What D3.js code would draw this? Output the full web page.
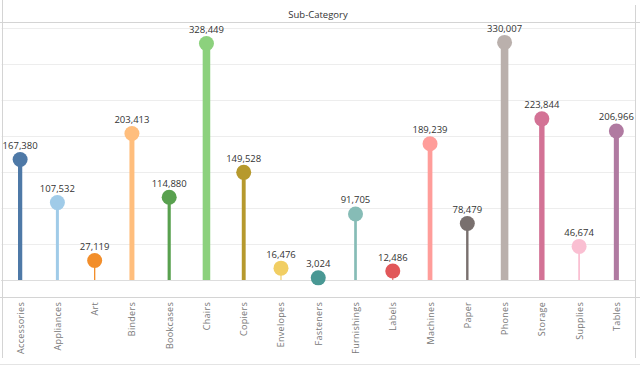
<!DOCTYPE html>
<html>
<head>
<meta charset="utf-8">
<script src="https://cdn.jsdelivr.net/npm/d3@7"></script>
<style>
body { margin: 0; background: #fff; }
svg { display: block; font-family: "Open Sans", sans-serif; }
</style>
</head>
<body>
<div id="chart"></div>
<script>
// data
var subCategories = ["Accessories", "Appliances", "Art", "Binders", "Bookcases", "Chairs", "Copiers",
	"Envelopes", "Fasteners", "Furnishings", "Labels", "Machines", "Paper", "Phones", "Storage",
	"Supplies", "Tables"];
var sales = [167380, 107532, 27119, 203413, 114880, 328449, 149528, 16476, 3024, 91705, 12486,
	189239, 78479, 330007, 223844, 46674, 206966];
var gridTicks = [0, 50000, 100000, 150000, 200000, 250000, 300000, 350000];
var palette = ["#4e79a7", "#a0cbe8", "#f28e2b", "#ffbe7d", "#59a14f", "#8cd17d", "#b6992d",
	"#f1ce63", "#499894", "#86bcb6", "#e15759", "#ff9d9a", "#79706e", "#bab0ac", "#d37295",
	"#fabfd2", "#b07aa1"];

var W = 640, H = 366;
var plotLeft = 1.5, plotRight = 635, plotTop = 22, zeroY = 280;

var svg = d3.select("#chart").append("svg")
	.attr("width", W)
	.attr("height", H);

var x = d3.scaleBand()
	.domain(subCategories)
	.range([plotLeft, plotRight]);

var y = d3.scaleLinear()
	.domain([0, 350000])
	.range([zeroY, 28]);

var stemWidth = d3.scaleLinear()
	.domain([0, 330007])
	.range([0.8, 7.6]);

var color = d3.scaleOrdinal()
	.domain(subCategories)
	.range(palette);

//header
svg.append("text")
	.attr("x", 318)
	.attr("y", 18)
	.attr("text-anchor", "middle")
	.attr("font-size", 9.5)
	.attr("fill", "#333")
	.text("Sub-Category");

svg.append("line")
	.attr("x1", 0).attr("x2", W)
	.attr("y1", 22.5).attr("y2", 22.5)
	.attr("stroke", "#d4d4d4");

//gridlines
svg.append("g")
	.selectAll("line")
	.data(gridTicks.slice(1))
	.join("line")
	.attr("x1", plotLeft).attr("x2", plotRight)
	.attr("y1", function(d){ return Math.round(y(d)) + 0.5; })
	.attr("y2", function(d){ return Math.round(y(d)) + 0.5; })
	.attr("stroke", "#ededed");

//zero line
svg.append("line")
	.attr("x1", plotLeft).attr("x2", plotRight)
	.attr("y1", y(0) + 0.5).attr("y2", y(0) + 0.5)
	.attr("stroke", "#bbb")
	.attr("stroke-dasharray", "1,1");

//borders
svg.append("line")
	.attr("x1", 0).attr("x2", W)
	.attr("y1", 297.5).attr("y2", 297.5)
	.attr("stroke", "#d4d4d4");
svg.append("line")
	.attr("x1", 0).attr("x2", W)
	.attr("y1", 364.5).attr("y2", 364.5)
	.attr("stroke", "#e4e4e4");
svg.append("line")
	.attr("x1", 2.5).attr("x2", 2.5)
	.attr("y1", 0).attr("y2", 358)
	.attr("stroke", "#d4d4d4");
svg.append("line")
	.attr("x1", plotRight + 0.5).attr("x2", plotRight + 0.5)
	.attr("y1", 5).attr("y2", 358)
	.attr("stroke", "#d4d4d4");

var rows = subCategories.map(function(c, i){ return {cat: c, val: sales[i]}; });
var cx = function(d){ return x(d.cat) + x.bandwidth() / 2; };

//stems
svg.append("g")
	.selectAll("line")
	.data(rows)
	.join("line")
	.attr("x1", cx).attr("x2", cx)
	.attr("y1", y(0))
	.attr("y2", function(d){ return y(d.val); })
	.attr("stroke", function(d){ return color(d.cat); })
	.attr("stroke-width", function(d){ return stemWidth(d.val); });

//heads
svg.append("g")
	.selectAll("circle")
	.data(rows)
	.join("circle")
	.attr("cx", cx)
	.attr("cy", function(d){ return y(d.val); })
	.attr("r", 7.5)
	.attr("fill", function(d){ return color(d.cat); });

//value labels
var fmt = d3.format(",");
svg.append("g")
	.selectAll("text")
	.data(rows)
	.join("text")
	.attr("x", cx)
	.attr("y", function(d){ return y(d.val) - 10.5; })
	.attr("text-anchor", "middle")
	.attr("font-size", 9.5)
	.attr("fill", "#333")
	.text(function(d){ return fmt(d.val); });

//category labels
svg.append("g")
	.selectAll("text")
	.data(rows)
	.join("text")
	.attr("transform", function(d){ return "translate(" + (cx(d) + 3.5) + ",302) rotate(-90)"; })
	.attr("text-anchor", "end")
	.attr("font-size", 9)
	.attr("letter-spacing", 0.3)
	.attr("fill", "#777")
	.text(function(d){ return d.cat; });
</script>
</body>
</html>
